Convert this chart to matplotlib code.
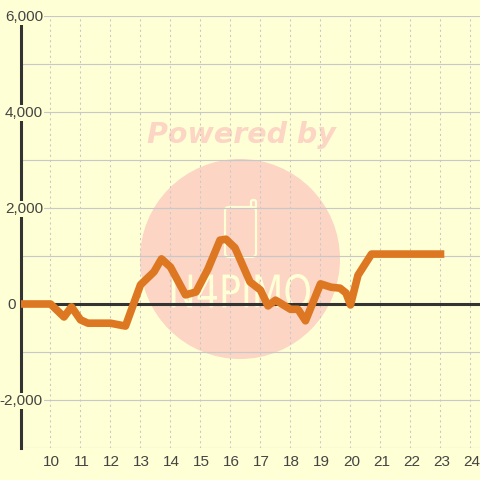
import matplotlib
matplotlib.use('Agg')
import matplotlib.pyplot as plt
from matplotlib.patches import Circle, FancyBboxPatch, PathPatch
from matplotlib.textpath import TextPath
from matplotlib.font_manager import FontProperties
from matplotlib.transforms import Affine2D, ScaledTranslation

hours = [9, 10, 10.45, 10.7, 11, 11.25, 12, 12.25, 12.5, 13, 13.45, 13.7, 14, 14.5,
         14.85, 15.25, 15.65, 15.85, 16.15, 16.65, 17, 17.25, 17.5, 18, 18.25, 18.5,
         19, 19.35, 19.65, 19.85, 20, 20.25, 20.7, 23]
values = [0, 0, -270, -60, -330, -400, -400, -430, -460, 400, 670, 940, 770, 190,
          250, 730, 1330, 1350, 1170, 460, 290, -40, 80, -110, -110, -350,
          420, 350, 330, 230, -20, 600, 1040, 1040]

xticks = list(range(10, 25))
yticks = [-2000, 0, 2000, 4000, 6000]
ylabels = ['-2,000', '0', '2,000', '4,000', '6,000']

bg = '#ffffd5'
pink = '#fcd5c5'

plt.rcParams['font.family'] = ['Liberation Sans', 'DejaVu Sans']

fig = plt.figure(figsize=(4.8, 4.8), dpi=100, facecolor=bg)
ax = fig.add_axes([20.5 / 480, 32 / 480, 459.5 / 480, 432 / 480], facecolor=bg)
ax.set_xlim(9, 24.317)
ax.set_ylim(-3000, 6000)

# watermark, in figure pixels (y up), behind the axes
fig.add_artist(Circle((240, 221), 100, transform=None, facecolor=pink, edgecolor='none', zorder=-3))
fig.text(241.5 / 480, 1 - 135 / 480, 'Powered by', color=pink, fontsize=20.5, fontweight='bold',
         fontstyle='oblique', family='DejaVu Sans', ha='center', va='center', zorder=-2)
fig.add_artist(FancyBboxPatch((225, 223), 31, 50, boxstyle='round,pad=0,rounding_size=4', transform=None,
                              facecolor='none', edgecolor=bg, linewidth=1.6, zorder=-2))
fig.add_artist(FancyBboxPatch((251, 272), 5, 8, boxstyle='round,pad=0,rounding_size=2', transform=None,
                              facecolor='none', edgecolor=bg, linewidth=1.6, zorder=-2))
logo = TextPath((0, 0), 'N4PIMO', size=30, prop=FontProperties(family='DejaVu Sans'))
box = logo.get_extents()
logo_tr = (Affine2D().translate(-box.x0, -box.y0).scale(138 / box.width, 34 / box.height)
           .translate(172, 172))
fig.add_artist(PathPatch(logo, transform=logo_tr, facecolor=bg, edgecolor='none', zorder=-2))

ax.patch.set_alpha(0)
ax.set_axisbelow(True)
ax.set_xticks(xticks)
ax.set_yticks(list(range(-3000, 6001, 1000)))
ax.grid(axis='x', color='#c8c8c8', linewidth=0.75, linestyle=(0, (2, 3)))
ax.grid(axis='y', color='#c8c8c8', linewidth=0.85)
ax.tick_params(axis='both', length=0, labelleft=False, labelsize=11, colors='#444444', pad=5)
ax.set_xticklabels([str(t) for t in xticks])
shift = ScaledTranslation(1 / 100, 0, fig.dpi_scale_trans)
for lab in ax.get_xticklabels():
    lab.set_transform(lab.get_transform() + shift)

for s in ['top', 'right', 'bottom']:
    ax.spines[s].set_visible(False)
ax.spines['left'].set_color('#333333')
ax.spines['left'].set_linewidth(2.2)
ax.spines['left'].set_bounds(-3000, 5830)

ax.axhline(0, color='#333333', linewidth=2.2, zorder=2)
ax.plot(hours, values, color='#dd7722', linewidth=5.5, solid_joinstyle='round', solid_capstyle='projecting', zorder=3)

for v, lab in zip(yticks, ylabels):
    right = 16 if v == 0 else 43
    ax.annotate(lab, xy=(0, v), xycoords=('axes fraction', 'data'), xytext=((right - 20.5) * 0.72, -0.72),
                textcoords='offset points', ha='right', va='center', fontsize=11, color='#444444',
                bbox=dict(facecolor=bg, edgecolor='none', pad=0.5), annotation_clip=False, zorder=4)

fig.savefig('out.png', dpi=100, facecolor=bg)
